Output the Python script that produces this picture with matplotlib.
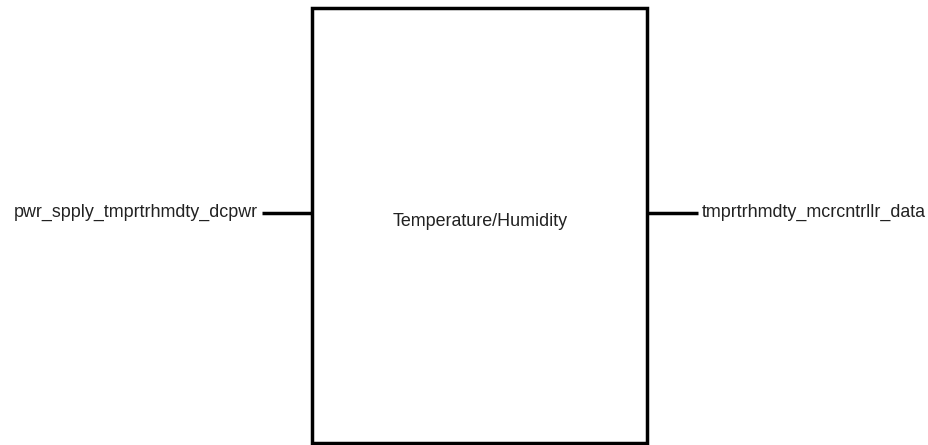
import matplotlib
matplotlib.use("Agg")
import matplotlib.pyplot as plt
from matplotlib.patches import Rectangle

block_label = "Temperature/Humidity"
input_ports = ["pwr_spply_tmprtrhmdty_dcpwr"]
output_ports = ["tmprtrhmdty_mcrcntrllr_data"]

W, H = 929, 445
fig = plt.figure(figsize=(W / 100, H / 100), dpi=100)
ax = fig.add_axes([0, 0, 1, 1])
ax.set_xlim(0, W)
ax.set_ylim(H, 0)
ax.axis("off")

font = dict(family=["Liberation Sans", "DejaVu Sans"], fontsize=12.9, color="#222222")

bx0, bx1, by0, by1 = 312.5, 647, 8, 443
ax.add_patch(Rectangle((bx0, by0), bx1 - bx0, by1 - by0, fill=False,
                       edgecolor="black", linewidth=2.5, joinstyle="miter"))
ax.text((bx0 + bx1) / 2, 221, block_label, ha="center", va="center", **font)

py = 212.5
for name in input_ports:
    ax.plot([262, bx0], [py, py], color="black", linewidth=2.5, solid_capstyle="butt")
    ax.text(258, py, name, ha="right", va="center", **font)
for name in output_ports:
    ax.plot([bx1, 698], [py, py], color="black", linewidth=2.5, solid_capstyle="butt")
    ax.text(702, py, name, ha="left", va="center", **font)

fig.savefig("out.png", dpi=100)
